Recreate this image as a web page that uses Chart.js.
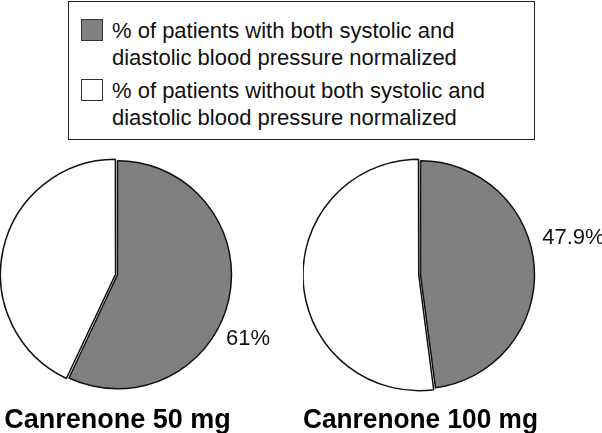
<!DOCTYPE html>
<html>
<head>
<meta charset="utf-8">
<script src="https://cdn.jsdelivr.net/npm/chart.js@4/dist/chart.umd.min.js"></script>
<style>
  html, body { margin: 0; padding: 0; background: #fff; }
  body { width: 602px; height: 433px; position: relative; overflow: hidden;
         font-family: 'Liberation Sans', Arial, sans-serif; color: #111; }
  #legend { position: absolute; left: 68px; top: 1px; width: 465px; height: 137px;
            border: 1.5px solid #222; }
  .item { position: absolute; left: 43px; font-size: 22px; line-height: 27px; white-space: nowrap; }
  .swatch { position: absolute; left: 12px; width: 20px; height: 20px; border: 1.5px solid #333; }
  canvas { position: absolute; }
</style>
</head>
<body>
<div id="legend"></div>
<canvas id="pie50" width="300" height="282" style="left:0px;top:155px"></canvas>
<canvas id="pie100" width="299" height="282" style="left:303px;top:155px"></canvas>

<script>
// ---- data ----
const seriesLabels = [
  '% of patients with both systolic and\ndiastolic blood pressure normalized',
  '% of patients without both systolic and\ndiastolic blood pressure normalized'
];
const groups = ['Canrenone 50 mg', 'Canrenone 100 mg'];
// slice sizes as drawn in the figure (the 50 mg grey slice is drawn near 57%)
const normalized = [57, 47.9];
const notNormalized = [43, 52.1];
// printed percentages
const pctText = ['61%', '47.9%'];
const labelAngles = [124, 71];   // degrees clockwise from top where the % text sits

const sliceColors = ['#808080', '#ffffff'];
const FONT = "'Liberation Sans', Arial, sans-serif";

// ---- legend (html) ----
const legend = document.getElementById('legend');
const tops = [15, 75];
seriesLabels.forEach((txt, i) => {
  const sw = document.createElement('div');
  sw.className = 'swatch';
  sw.style.top = (tops[i] + 2) + 'px';
  sw.style.background = sliceColors[i];
  legend.appendChild(sw);
  const it = document.createElement('div');
  it.className = 'item';
  it.style.top = tops[i] + 'px';
  it.innerHTML = txt.replace('\n', '<br>');
  legend.appendChild(it);
});

// percentage text next to the grey slice
const pctLabel = {
  id: 'pctLabel',
  afterDatasetsDraw(chart, args, opts) {
    const arc = chart.getDatasetMeta(0).data[0];
    const ang = (opts.angle - 90) * Math.PI / 180;
    const r = arc.outerRadius;
    const x = arc.x + Math.cos(ang) * r + 14;
    const y = arc.y + Math.sin(ang) * r;
    const ctx = chart.ctx;
    ctx.save();
    ctx.font = '22px ' + FONT;
    ctx.fillStyle = '#111';
    ctx.textAlign = 'left';
    ctx.textBaseline = 'middle';
    ctx.fillText(opts.text, x, y);
    ctx.restore();
  }
};

function renderPie(canvasId, idx, whiteOffset, padRight) {
  const canvas = document.getElementById(canvasId);
  return new Chart(canvas.getContext('2d'), {
    type: 'pie',
    data: {
      labels: seriesLabels,
      datasets: [{
        data: [normalized[idx], notNormalized[idx]],
        backgroundColor: sliceColors,
        borderColor: '#111',
        borderWidth: 1.5,
        offset: [0, whiteOffset],
        radius: 114
      }]
    },
    options: {
      responsive: false,
      animation: false,
      events: [],
      layout: { padding: { left: 0, right: padRight, top: 0, bottom: 0 } },
      plugins: {
        legend: { display: false },
        tooltip: { enabled: false },
        title: {
          display: true,
          position: 'bottom',
          text: groups[idx],
          color: '#000',
          font: { family: FONT, size: 27, weight: 'bold', lineHeight: 1.2 },
          padding: { top: 10, bottom: 0 }
        },
        pctLabel: { angle: labelAngles[idx], text: pctText[idx] }
      }
    },
    plugins: [pctLabel]
  });
}

renderPie('pie50', 0, 8, 65);
renderPie('pie100', 1, 7, 64);
</script>
</body>
</html>
